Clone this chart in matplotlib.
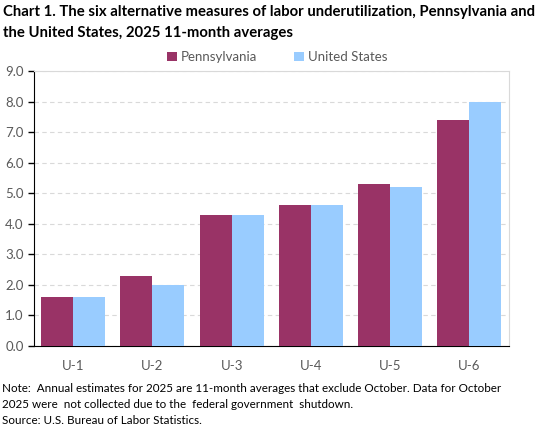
import numpy as np
import matplotlib
matplotlib.use("Agg")
import matplotlib.pyplot as plt

# Data
CATEGORIES = ["U-1", "U-2", "U-3", "U-4", "U-5", "U-6"]
PENNSYLVANIA = [1.6, 2.3, 4.3, 4.6, 5.3, 7.4]
UNITED_STATES = [1.6, 2.0, 4.3, 4.6, 5.2, 8.0]
Y_TICKS = [0, 1, 2, 3, 4, 5, 6, 7, 8, 9]

plt.rcParams["font.family"] = ["Lato", "DejaVu Sans"]

fig = plt.figure(figsize=(5.43, 4.28), dpi=100)
ax = fig.add_axes([33.5 / 543, 1 - 346 / 428, (509 - 33.5) / 543, (346 - 71) / 428])

x = np.arange(len(CATEGORIES))
w = 0.405
ax.bar(x - w / 2, PENNSYLVANIA, width=w, color="#993366", label="Pennsylvania", zorder=3)
ax.bar(x + w / 2, UNITED_STATES, width=w, color="#99ccff", label="United States", zorder=3)

ax.set_xlim(-0.5, len(CATEGORIES) - 0.5)
ax.set_ylim(0, 9)
ax.set_yticks(Y_TICKS)
ax.set_yticklabels([f"{v:.1f}" for v in Y_TICKS])
ax.set_xticks(x)
ax.set_xticklabels(CATEGORIES)
ax.tick_params(axis="x", length=0, pad=10, labelsize=9.5, labelcolor="#595959")
ax.tick_params(axis="y", length=4, width=1, direction="out", pad=3, labelsize=9.5, labelcolor="#595959")
ax.yaxis.grid(True, color="#d9d9d9", linestyle=(0, (4, 3)), linewidth=0.8, zorder=0)

ax.spines["left"].set_color("black")
ax.spines["bottom"].set_color("black")
ax.spines["top"].set_color("#d9d9d9")
ax.spines["right"].set_color("#d9d9d9")

fig.text(0.006, 1 - 12 / 428, "Chart 1. The six alternative measures of labor underutilization, Pennsylvania and",
         fontsize=10.7, fontweight="bold", va="center", ha="left")
fig.text(0.006, 1 - 33 / 428, "the United States, 2025 11-month averages",
         fontsize=10.7, fontweight="bold", va="center", ha="left")

fig.legend(loc="center", bbox_to_anchor=(0.51, 1 - 57 / 428), ncol=2, frameon=False,
           fontsize=9.5, labelcolor="#595959", handlelength=0.75, handleheight=0.75,
           handletextpad=0.3, columnspacing=2.8)

notes = ["Note:  Annual estimates for 2025 are 11-month averages that exclude October. Data for October",
         "2025 were  not collected due to the  federal government  shutdown.",
         "Source: U.S. Bureau of Labor Statistics."]
for i, line in enumerate(notes):
    fig.text(0.004, 1 - (388 + 16 * i) / 428, line, fontsize=8.4, va="center", ha="left")

fig.savefig("out.png", dpi=100)
